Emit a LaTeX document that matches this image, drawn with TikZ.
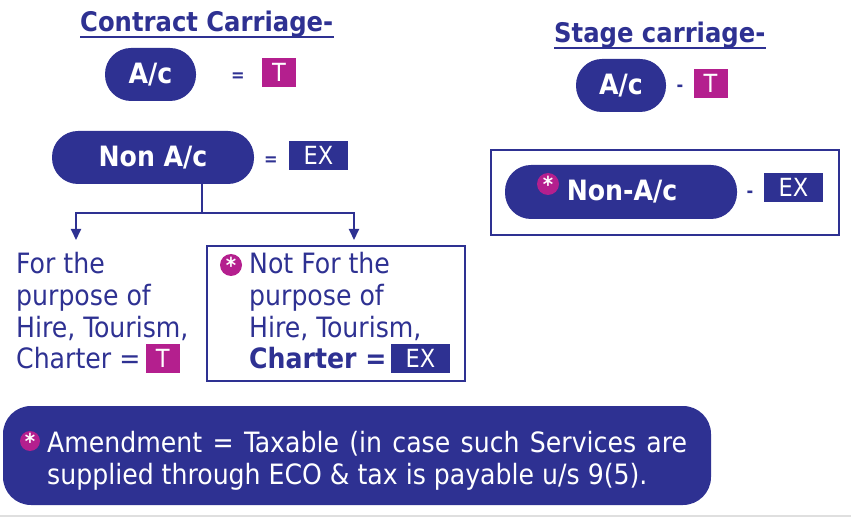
\documentclass[tikz,border=0pt]{standalone}
\usepackage{fontspec}
\setmainfont{DejaVu Sans Condensed}
\usetikzlibrary{arrows.meta,positioning,calc}
\definecolor{navy}{HTML}{2E3192}
\definecolor{mag}{HTML}{B41F8E}
\tikzset{
  title/.style={text=navy, font=\fontsize{27}{30}\selectfont\bfseries, inner sep=0pt},
  uline/.style={navy, line width=2.5pt},
  pill/.style={fill=navy, rectangle, rounded corners=26pt, text=white, font=\fontsize{28}{32}\selectfont\bfseries, inner sep=0pt},
  tagT/.style={fill=mag, text=white, minimum width=34pt, minimum height=29pt, inner sep=0pt, font=\fontsize{25}{28}\selectfont},
  tagEX/.style={fill=navy, text=white, minimum width=59pt, minimum height=29pt, inner sep=0pt, font=\fontsize{25}{28}\selectfont},
  eq/.style={text=navy, font=\fontsize{18}{24}\selectfont\bfseries, inner sep=0pt},
  star/.style={circle, fill=mag, text=white, minimum size=22pt, inner sep=0pt, font=\fontsize{22}{22}\selectfont\bfseries},
  txt/.style={text=navy, align=left, inner sep=0pt, font=\fontsize{28}{32}\selectfont},
  frame/.style={draw=navy, line width=2pt, rectangle, inner sep=0pt},
  arr/.style={-{Triangle[width=10pt,length=11pt]}, navy, line width=2pt},
}
\newcommand{\starmark}{\raisebox{-6pt}{*}}
\begin{document}
\begin{tikzpicture}[x=1pt,y=-1pt]
\useasboundingbox (0,0) rectangle (851,518);

% contract carriage
\node[title, anchor=base west] (cctitle) at (80,32) {Contract Carriage-\hspace{8pt}};
\draw[uline] ([yshift=-5pt]cctitle.base west) -- ([yshift=-5pt]cctitle.base east);

\node[pill, minimum width=91pt, minimum height=53pt] (ac) at (150.5,74.5) {A/c};
\node[eq] (eqac) at (238,77) {=};
\node[tagT] (tac) at (279,72.5) {T};

\node[pill, minimum width=202pt, minimum height=53pt] (nonac) at (153,157.5) {Non A/c};
\node[eq] (eqnonac) at (271,161) {=};
\node[tagEX] (exnonac) at (318.5,155.5) {EX};

\coordinate (stem) at (202,184);
\coordinate (lt) at (76,240);
\coordinate (rt) at (354,240);
\draw[arr] (stem) -- ++(0,29) -| (lt);
\draw[arr] (stem) -- ++(0,29) -| (rt);

\node[txt, anchor=north west] (hire) at (16,252) {For the\\purpose of\\Hire, Tourism,};
\node[txt, anchor=base west] (chartl) at (16,369) {Charter =};
\node[tagT, right=5pt of chartl] (thire) {T};

\node[frame, minimum width=258pt, minimum height=135pt] (notbox) at (336,313.5) {};
\node[star] (snot) at (231,265) {\starmark};
\node[txt, anchor=north west] (nothire) at (249,252) {Not For the\\purpose of\\Hire, Tourism,};
\node[txt, anchor=base west, font=\fontsize{28}{32}\selectfont\bfseries] (chartr) at (249,369) {Charter =};
\node[tagEX, right=4pt of chartr] (exnot) {EX};

% stage carriage
\node[title, anchor=base west] (sctitle) at (554,43) {Stage carriage-\hspace{0pt}};
\draw[uline] ([yshift=-5pt]sctitle.base west) -- ([yshift=-5pt]sctitle.base east);

\node[pill, minimum width=90pt, minimum height=53pt] (sac) at (621,85.5) {A/c};
\node[eq] (dsac) at (680,88) {-};
\node[tagT] (tsac) at (710.5,83.5) {T};

\node[frame, minimum width=348pt, minimum height=85pt] (sbox) at (665,192.5) {};
\node[pill, minimum width=232pt, minimum height=54pt] (snonac) at (621,192) {\hspace{2pt}Non-A/c};
\node[star] (ssnon) at (548,184) {\starmark};
\node[eq] (dsnon) at (750,194) {-};
\node[tagEX] (exsnon) at (793.5,187.5) {EX};

% amendment note
\node[fill=navy, rectangle, rounded corners=28pt, minimum width=708pt, minimum height=99pt, inner sep=0pt] (amend) at (357,455.5) {};
\node[star, minimum size=20pt] (samend) at (30,441) {\starmark};
\node[txt, text=white, anchor=north west, text width=640pt, align=justify] (amendtxt) at (47,431) {Amendment = Taxable (in case such Services are\linebreak supplied through ECO \& tax is payable u/s 9(5).};

\draw[gray!25, line width=2pt] (0,516) -- (851,516);
\end{tikzpicture}
\end{document}
